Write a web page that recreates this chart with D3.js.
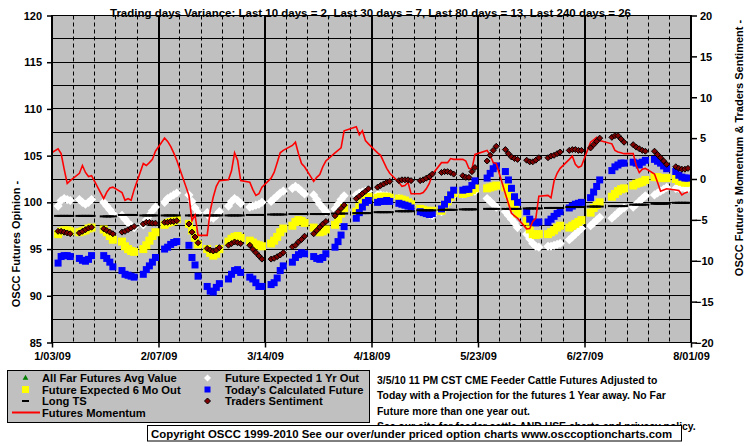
<!DOCTYPE html>
<html><head><meta charset="utf-8">
<script src="https://cdn.jsdelivr.net/npm/d3@7"></script>
<style>
body{margin:0;background:#fff}
svg{display:block}
text{font-family:"Liberation Sans",Arial,sans-serif;font-weight:bold;fill:#000}
</style>
</head><body>
<svg id="c" width="755" height="446"></svg>
<script>
// ---------- DATA ----------
const titleText = "Trading days Variance:  Last 10 days = 2,  Last 30 days = 7,  Last 80 days = 13,  Last 240 days = 26";
const leftAxisTitle = "OSCC Futures Opinion -";
const rightAxisTitle = "OSCC Future's Momentum & Traders Sentiment -";
const xTickLabels = ["1/03/09","2/07/09","3/14/09","4/18/09","5/23/09","6/27/09","8/01/09"];
const leftTicks = [85,90,95,100,105,110,115,120];
const rightTicks = [-20,-15,-10,-5,0,5,10,15,20];
const legendItems = ["All Far Futures Avg Value","Future Expected 1 Yr Out","Future Expected 6 Mo Out","Today's Calculated Future","Long TS","Traders Sentiment","Futures Momentum"];
const noteLines = [
 "3/5/10 11 PM CST CME Feeder Cattle Futures Adjusted to",
 "Today with a Projection for the futures 1 Year away. No Far",
 "Future more than one year out.",
 "See our site for feeder cattle AND USE charts and privacy policy."
];
const copyrightText = "Copyright OSCC 1999-2010 See our over/under priced option charts www.osccoptioncharts.com";

// Monday of each trading week (Mon..Fri values per row)
const weekStarts = ["2008-12-29","2009-01-05","2009-01-12","2009-01-19","2009-01-26","2009-02-02","2009-02-09","2009-02-16","2009-02-23","2009-03-02","2009-03-09","2009-03-16","2009-03-23","2009-03-30","2009-04-06","2009-04-13","2009-04-20","2009-04-27","2009-05-04","2009-05-11","2009-05-18","2009-05-25","2009-06-01","2009-06-08","2009-06-15","2009-06-22","2009-06-29","2009-07-06","2009-07-13","2009-07-20","2009-07-27"];
const N = null;
// Today's Calculated Future (left axis)
const todayCalc = [
 [N,N,N,N,N],
 [93.5,94.2,94.3,94.3,94.2],[94.0,93.8,93.7,93.9,94.3],[N,94.3,94.0,93.6,93.1],[92.7,92.3,92.2,92.1,92.0],
 [92.3,92.8,93.2,93.6,94.1],[95.0,95.2,95.5,95.7,95.8],[N,95.4,94.1,93.3,92.1],[91.0,90.5,90.4,90.9,91.3],
 [91.8,92.3,92.7,92.8,92.5],[92.0,91.8,91.4,91.0,91.0],[91.2,91.4,91.9,92.7,93.2],[93.6,94.1,94.4,94.6,94.5],
 [94.2,94.0,93.9,94.1,94.5],[95.2,95.8,96.5,97.4,N],[98.3,98.9,99.5,100.0,100.2],[100.0,100.1,100.1,100.2,100.1],
 [99.9,99.8,99.7,99.6,99.4],[99.0,98.9,98.8,98.7,98.8],[99.3,99.8,100.3,100.8,101.3],[101.3,101.4,101.4,101.8,102.3],
 [N,102.6,103.1,103.6,103.9],[103.3,102.4,101.5,100.6,100.0],[99.0,98.2,97.9,97.8,97.9],[97.9,98.2,98.5,98.8,99.0],
 [99.4,99.6,99.8,99.9,100.0],[100.5,101.1,101.7,102.4,N],[103.4,103.8,104.0,104.2,104.2],[104.3,104.2,104.0,104.3,104.5],
 [104.6,104.4,104.2,103.9,103.6],[103.3,102.9,102.7,102.6,102.6]
];
// Future Expected 6 Mo Out (left axis)
const expected6Mo = [
 [N,N,N,N,N],
 [96.6,96.9,97.0,97.0,96.9],[96.8,96.9,97.0,97.2,97.3],[N,97.1,96.8,96.4,96.0],[95.8,95.3,95.0,94.8,94.7],
 [95.0,95.4,95.9,96.4,96.8],[97.6,97.8,97.9,98.0,98.2],[N,97.7,97.0,96.2,95.5],[95.0,94.6,94.3,94.5,95.0],
 [95.8,96.1,96.3,96.4,96.2],[95.9,95.7,95.5,95.4,95.3],[95.6,95.9,96.3,96.8,97.2],[97.5,97.9,98.1,98.0,97.8],
 [97.3,97.0,96.8,96.9,97.1],[97.6,98.2,98.8,99.4,N],[99.0,99.5,99.9,100.3,100.6],[100.5,100.6,100.6,100.6,100.5],
 [100.4,100.3,100.2,100.0,99.8],[99.3,99.2,99.1,99.0,99.1],[99.1,99.6,100.1,100.6,101.0],[100.9,101.0,101.1,101.3,101.5],
 [N,101.5,101.6,101.7,101.8],[101.6,100.9,100.0,99.4,98.8],[98.0,97.1,96.6,96.5,96.6],[96.6,96.8,97.0,97.3,97.5],
 [97.3,97.5,97.7,97.9,98.1],[98.9,99.4,99.7,100.0,N],[100.6,100.9,101.2,101.4,101.5],[101.8,102.0,102.1,102.2,102.4],
 [102.7,102.7,102.6,102.6,102.6],[102.5,102.3,102.2,102.1,102.1]
];
// Future Expected 1 Yr Out (left axis)
const expected1Yr = [
 [N,N,N,N,N],
 [99.6,100.2,100.4,100.3,100.2],[100.3,100.0,99.8,100.0,100.3],[N,100.0,99.6,99.2,98.8],[98.6,98.2,97.8,97.5,97.3],
 [97.6,98.1,98.6,99.1,99.5],[100.0,100.4,100.6,100.8,101.0],[N,100.8,100.1,99.4,98.9],[98.9,98.4,98.3,98.6,99.0],
 [99.6,100.1,100.4,100.2,99.9],[99.5,99.6,99.7,99.8,100.0],[100.1,100.4,100.7,101.0,101.2],[101.5,101.7,101.5,101.2,100.9],
 [100.8,100.3,99.8,99.4,99.0],[99.3,99.8,100.3,100.7,N],[100.8,101.0,101.1,101.2,101.2],[100.8,100.8,100.7,100.7,100.6],
 [100.4,100.3,100.1,99.9,99.7],[99.2,99.0,98.9,98.7,98.6],[99.0,99.5,100.0,100.4,100.8],[100.9,101.0,101.1,101.2,101.2],
 [N,100.4,100.1,99.8,99.5],[99.0,98.6,98.2,97.8,97.3],[96.6,96.1,95.6,95.3,95.2],[95.3,95.3,95.4,95.5,95.6],
 [96.0,96.3,96.6,96.9,97.2],[97.5,97.8,98.1,98.4,N],[98.3,98.6,98.9,99.2,99.4],[99.5,99.8,100.1,100.4,100.7],
 [100.8,101.0,101.2,101.4,101.6],[101.5,101.5,101.6,101.5,101.5]
];
// Long TS (left axis), one level per week
const longTS = [N,98.55,98.55,98.5,98.65,98.6,98.6,98.6,98.6,98.6,98.65,98.7,98.75,98.75,98.8,98.85,98.95,99.05,99.15,99.2,99.25,99.3,99.3,99.35,99.4,99.5,99.55,99.6,99.75,99.85,99.95];
// Traders Sentiment (right axis)
const tradersSentiment = [
 [N,N,N,N,N],
 [-6.4,-6.4,-6.5,-6.6,-6.7],[-6.6,-6.4,-6.2,-6.0,-5.9],[N,-6.1,-6.3,-6.5,-6.7],[-6.5,-6.4,-6.2,-6.0,-5.8],
 [-5.5,-5.3,-5.3,-5.4,-5.4],[-5.3,-5.3,-5.2,-5.2,-5.1],[N,-5.5,-6.5,-7.1,-7.8],[-8.5,-8.7,-8.8,-8.7,-8.4],
 [-8.1,-7.9,-7.7,-7.8,-7.9],[-8.1,-8.6,-9.0,-9.4,-9.8],[-9.8,-9.7,-9.5,-9.3,-9.0],[-8.3,-8.1,-7.7,-7.4,-7.0],
 [-6.7,-6.3,-5.9,-5.5,-5.2],[-4.5,-4.0,-3.6,-3.2,N],[-2.4,-2.1,-1.8,-1.5,-1.2],[-1.0,-0.8,-0.6,-0.4,-0.3],
 [-0.2,-0.1,-0.1,-0.1,-0.2],[-0.2,-0.1,0.1,0.3,0.6],[0.8,0.9,0.9,0.8,0.6],[0.4,0.2,0.2,0.9,1.4],
 [N,2.2,2.9,3.5,4.0],[3.6,3.1,2.7,2.5,2.4],[2.3,2.1,2.1,2.3,2.6],[2.6,2.8,2.9,3.1,3.3],
 [3.5,3.6,3.6,3.5,3.5],[3.8,4.2,4.6,5.0,N],[5.1,5.3,5.3,4.9,4.5],[4.2,3.9,3.7,3.5,3.4],
 [3.4,3.0,2.6,2.2,1.8],[1.5,1.3,1.2,1.2,1.3]
];
// Futures Momentum (right axis)
const futuresMomentum = [
 [N,N,N,N,3.0],
 [3.7,3.1,1.2,-0.55,-0.2],[0.7,1.65,0.8,0.3,0.4],[N,-2.4,-1.6,-1.1,-1.0],[-1.65,-2.6,-2.4,-2.6,-1.3],
 [1.9,1.65,2.0,2.4,3.4],[5.0,4.6,4.0,3.2,2.3],[N,-2.0,-5.1,-4.4,-6.9],[-6.9,-3.9,-2.2,-0.9,-0.2],
 [-0.1,1.0,3.2,2.3,-0.2],[-0.4,-1.3,-2.0,-1.8,-1.0],[0.1,0.8,2.0,3.2,3.5],[4.1,4.5,3.1,1.9,1.5],
 [-0.3,0.2,0.55,1.5,2.2],[3.2,3.5,3.8,5.9,N],[6.4,5.4,5.9,4.7,4.3],[3.2,2.9,2.1,1.3,0.7],
 [-0.4,-0.9,-0.8,-0.4,-1.8],[-1.8,-1.65,-1.2,-0.55,0.55],[2.0,2.0,2.0,2.5,2.4],[2.4,2.2,1.3,1.2,3.0],
 [N,3.5,2.9,2.0,1.9],[-1.8,-3.0,-4.2,-4.5,-4.8],[-6.1,-6.05,-5.2,-4.8,-2.1],[-2.0,-2.3,-0.25,0.7,1.3],
 [2.4,2.8,1.8,1.4,1.6],[4.5,4.8,5.1,4.7,N],[4.3,3.5,3.3,3.2,3.1],[3.1,1.65,0.8,1.2,1.3],
 [0.6,-0.4,-1.5,-1.35,-1.2],[-1.35,-1.4,-1.95,-1.7,-1.6]
];

// ---------- CHART ----------
const svg = d3.select("#c");
const parseISO = d3.timeParse("%Y-%m-%d");
const parseTick = d3.timeParse("%m/%d/%y");
const tickDates = xTickLabels.map(parseTick);
const P = {l:52, r:691, t:15.5, b:342.5};

const x = d3.scaleTime().domain([tickDates[0], tickDates[tickDates.length-1]]).range([P.l, P.r]);
const yL = d3.scaleLinear().domain([85,120]).range([P.b, P.t]);
const yR = d3.scaleLinear().domain([-20,20]).range([P.b, P.t]);
const crisp = v => Math.floor(v) + 0.5;

function expand(rows){
  const out = [];
  rows.forEach((row,i)=>{
    const mon = parseISO(weekStarts[i]);
    row.forEach((v,k)=>{ if(v!==null) out.push({date:d3.timeDay.offset(mon,k), v}); });
  });
  return out;
}
function expandWeekly(levels, refRows){
  const out = [];
  levels.forEach((v,i)=>{
    if(v===null) return;
    const mon = parseISO(weekStarts[i]);
    refRows[i].forEach((r,k)=>{ if(r!==null) out.push({date:d3.timeDay.offset(mon,k), v}); });
  });
  return out;
}

// plot background
svg.append("rect").attr("x",P.l).attr("y",P.t-0.5).attr("width",P.r-P.l).attr("height",P.b-P.t)
  .attr("fill","#c0c0c0");

// horizontal gridlines every 2.5
const g = svg.append("g");
d3.range(85,120.01,2.5).forEach(v=>{
  g.append("line").attr("x1",P.l).attr("x2",P.r).attr("y1",crisp(yL(v))).attr("y2",crisp(yL(v)))
   .attr("stroke","#000").attr("stroke-width",1);
});
// weekly dashed and 5-week solid verticals
const saturdays = d3.timeDay.range(tickDates[0], d3.timeDay.offset(tickDates[tickDates.length-1],1), 7);
saturdays.forEach((d,i)=>{
  const major = i % 5 === 0;
  if(major){
    g.append("line").attr("x1",Math.round(x(d))).attr("x2",Math.round(x(d))).attr("y1",P.t-0.5).attr("y2",P.b+0.5)
     .attr("stroke","#000").attr("stroke-width",2);
  } else {
    g.append("line").attr("x1",crisp(x(d))).attr("x2",crisp(x(d))).attr("y1",P.t).attr("y2",P.b)
     .attr("stroke","#000").attr("stroke-width",1).attr("stroke-dasharray","4,3");
  }
});

// series
const diamond = r => `M0,${-r}L${r},0L0,${r}L${-r},0Z`;
const series = svg.append("g");

series.selectAll(".w").data(expand(expected1Yr)).join("path")
  .attr("d",diamond(4.6)).attr("fill","#fff")
  .attr("transform",d=>`translate(${x(d.date)},${yL(d.v)})`);

series.selectAll(".y").data(expand(expected6Mo)).join("rect")
  .attr("x",d=>x(d.date)-4).attr("y",d=>yL(d.v)-4).attr("width",8).attr("height",8).attr("fill","#ffff00");

series.selectAll(".b").data(expand(todayCalc)).join("rect")
  .attr("x",d=>x(d.date)-3.5).attr("y",d=>yL(d.v)-3.5).attr("width",7).attr("height",7).attr("fill","#0000ff");

series.selectAll(".l").data(expandWeekly(longTS, todayCalc)).join("rect")
  .attr("x",d=>x(d.date)-4).attr("y",d=>yL(d.v)-1).attr("width",8).attr("height",2).attr("fill","#000");

svg.append("clipPath").attr("id","clip").append("rect")
  .attr("x",P.l).attr("y",P.t).attr("width",P.r-P.l).attr("height",P.b-P.t);
const line = d3.line().x(d=>x(d.date)).y(d=>yR(d.v));
series.append("path").datum(expand(futuresMomentum)).attr("d",line)
  .attr("fill","none").attr("stroke","#ff0000").attr("stroke-width",1.6).attr("clip-path","url(#clip)");

series.selectAll(".s").data(expand(tradersSentiment)).join("path")
  .attr("d",diamond(3.0)).attr("fill","#800000").attr("stroke","#000").attr("stroke-width",1)
  .attr("transform",d=>`translate(${x(d.date)},${yR(d.v)})`);

// axes
const axL = svg.append("g").attr("transform",`translate(${P.l},0)`)
  .call(d3.axisLeft(yL).tickValues(leftTicks).tickSize(5).tickPadding(5).tickFormat(d3.format("d")));
const axR = svg.append("g").attr("transform",`translate(${P.r},0)`)
  .call(d3.axisRight(yR).tickValues(rightTicks).tickSize(6).tickPadding(3).tickFormat(d3.format("d")));
const axB = svg.append("g").attr("transform",`translate(0,${P.b})`)
  .call(d3.axisBottom(x).tickValues(tickDates).tickSize(5).tickPadding(5).tickFormat((d,i)=>xTickLabels[i]));
[axL,axR,axB].forEach(a=>{
  a.select(".domain").remove();
  a.selectAll(".tick line").attr("stroke","#000").attr("stroke-width",1.5);
  a.selectAll("text").attr("font-size",11).attr("font-family",null).attr("fill","#000");
});
axR.selectAll(".tick text").attr("text-anchor","start").attr("x",d=>d<0?4:9).attr("dy","0.35em");
// frame lines
svg.append("line").attr("x1",P.l).attr("x2",P.l).attr("y1",P.t-0.5).attr("y2",P.b+0.5).attr("stroke","#000").attr("stroke-width",2);
svg.append("line").attr("x1",P.r).attr("x2",P.r).attr("y1",P.t-0.5).attr("y2",P.b+0.5).attr("stroke","#000").attr("stroke-width",2);
svg.append("line").attr("x1",P.l).attr("x2",P.r).attr("y1",P.b).attr("y2",P.b).attr("stroke","#000").attr("stroke-width",1);

// title
svg.append("text").attr("x",370.5).attr("y",17).attr("text-anchor","middle").attr("font-size",11.5).text(titleText);
// axis titles
svg.append("text").attr("transform","translate(20,244) rotate(-90)").attr("text-anchor","middle").attr("font-size",11).text(leftAxisTitle);
svg.append("text").attr("transform","translate(743,148) rotate(-90)").attr("text-anchor","middle").attr("font-size",11).text(rightAxisTitle);

// legend
const lg = svg.append("g");
lg.append("rect").attr("x",7.5).attr("y",370.5).attr("width",362).attr("height",52).attr("fill","#c0c0c0").attr("stroke","#000").attr("stroke-width",1);
const rowsY = [378, 389.5, 401, 412.5];
const cx1 = 25.5, cx2 = 207.5, tx1 = 42, tx2 = 225;
lg.append("path").attr("d",d3.symbol(d3.symbolTriangle,14)()).attr("fill","#007f00").attr("transform",`translate(${cx1},${rowsY[0]})`);
lg.append("path").attr("d",diamond(3.5)).attr("fill","#fff").attr("transform",`translate(${cx2},${rowsY[0]})`);
lg.append("rect").attr("x",cx1-3.5).attr("y",rowsY[1]-3.5).attr("width",7).attr("height",7).attr("fill","#ffff00");
lg.append("rect").attr("x",cx2-3).attr("y",rowsY[1]-3).attr("width",6).attr("height",6).attr("fill","#0000ff");
lg.append("rect").attr("x",cx1-3.5).attr("y",rowsY[2]-1).attr("width",7).attr("height",2).attr("fill","#000");
lg.append("path").attr("d",diamond(3)).attr("fill","#800000").attr("stroke","#000").attr("stroke-width",1).attr("transform",`translate(${cx2},${rowsY[2]})`);
lg.append("line").attr("x1",12).attr("x2",40).attr("y1",rowsY[3]).attr("y2",rowsY[3]).attr("stroke","#ff0000").attr("stroke-width",2);
const legPos = [[tx1,0],[tx2,0],[tx1,1],[tx2,1],[tx1,2],[tx2,2],[tx1,3]];
legendItems.forEach((t,i)=>{
  lg.append("text").attr("x",legPos[i][0]).attr("y",rowsY[legPos[i][1]]+4).attr("font-size",11.2).text(t);
});

// note lines (the last one sits partly behind the copyright box, as in the original)
const noteY = [383.5, 399, 414.5, 430];
noteLines.forEach((t,i)=>{
  svg.append("text").attr("x",377).attr("y",noteY[i]).attr("font-size",10.4).text(t);
});
// copyright box
svg.append("rect").attr("x",147.5).attr("y",425.5).attr("width",534).attr("height",15.5).attr("fill","#fff").attr("stroke","#000");
svg.append("text").attr("x",151).attr("y",437.5).attr("font-size",11.4).text(copyrightText);
</script>
</body></html>
